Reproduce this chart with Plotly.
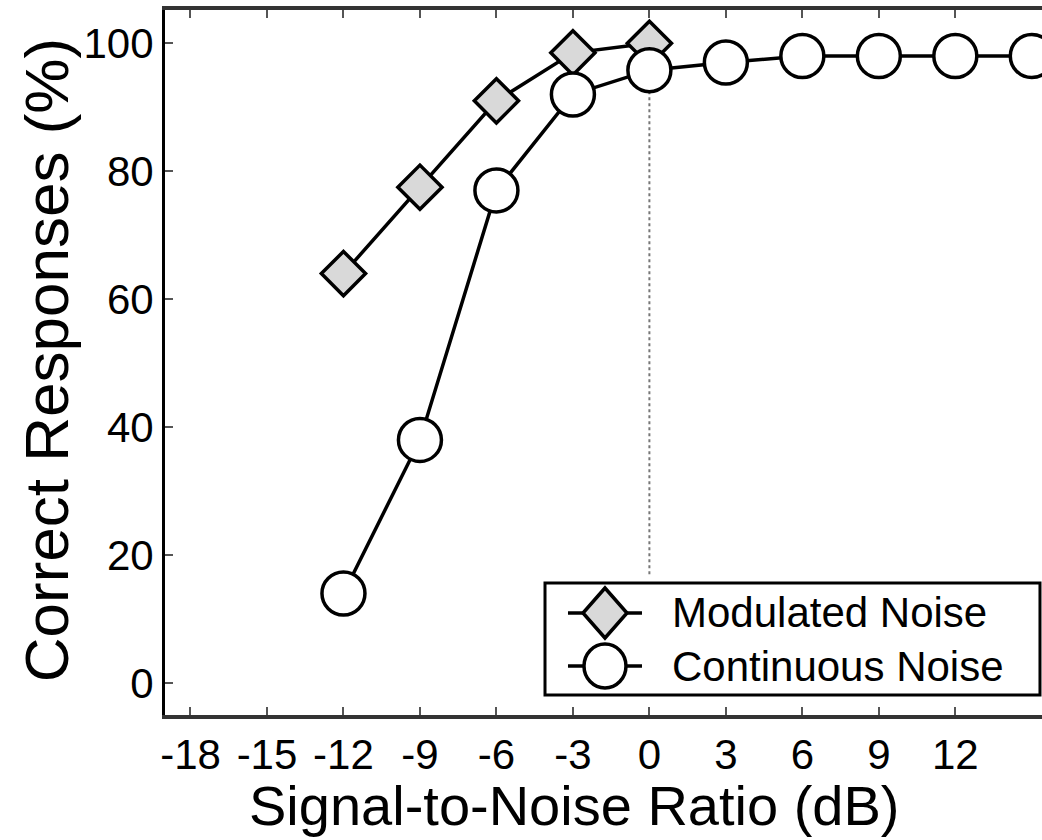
import plotly.graph_objects as go

snr = [-12, -9, -6, -3, 0]
modulated = [64, 77.5, 91, 98.5, 100]
snr_cont = [-12, -9, -6, -3, 0, 3, 6, 9, 12, 15]
continuous = [14, 38, 77, 92, 95.8, 97, 98, 98, 98, 98]
x_ticks = [-18, -15, -12, -9, -6, -3, 0, 3, 6, 9, 12]
x_labels = ["-18", "-15", "-12", "-9", "-6", "-3", "0", "3", "6", "9", "12"]
y_ticks = [0, 20, 40, 60, 80, 100]
names = ["Modulated Noise", "Continuous Noise"]

FONT = "Liberation Sans, Arial, Helvetica, sans-serif"

fig = go.Figure()
fig.add_trace(go.Scatter(
    x=snr, y=modulated, mode="lines+markers", name=names[0],
    line=dict(color="black", width=3.5),
    marker=dict(symbol="diamond", size=34, color="#d9d9d9", line=dict(color="black", width=3.5)),
    cliponaxis=False,
))
fig.add_trace(go.Scatter(
    x=snr_cont, y=continuous, mode="lines+markers", name=names[1],
    line=dict(color="black", width=3.5),
    marker=dict(symbol="circle", size=43, color="white", line=dict(color="black", width=3.5)),
    cliponaxis=False,
))

# dotted reference line at 0 dB
fig.add_shape(type="line", xref="x", yref="y", x0=0, x1=0, y0=17, y1=96,
              line=dict(color="#777777", width=2, dash="dot"), layer="below")

# manual legend
lx0, lx1, ly0, ly1 = 0.4333, 0.9977, 0.0284, 0.1872
fig.add_shape(type="rect", xref="paper", yref="paper", x0=lx0, x1=lx1, y0=ly0, y1=ly1,
              line=dict(color="black", width=3), fillcolor="white", layer="above")
sx = 0.5017
rows = [0.1447, 0.0695]
for i, ry in enumerate(rows):
    fig.add_shape(type="line", xref="paper", yref="paper", xsizemode="pixel", xanchor=sx,
                  x0=-37, x1=37, y0=ry, y1=ry, line=dict(color="black", width=3.5), layer="above")
    if i == 0:
        fig.add_shape(type="path", xref="paper", yref="paper", xsizemode="pixel", ysizemode="pixel",
                      xanchor=sx, yanchor=ry,
                      path="M 0 25 L 22 0 L 0 -25 L -22 0 Z",
                      line=dict(color="black", width=3.5), fillcolor="#d9d9d9", layer="above")
    else:
        fig.add_shape(type="circle", xref="paper", yref="paper", xsizemode="pixel", ysizemode="pixel",
                      xanchor=sx, yanchor=ry, x0=-21, x1=21, y0=-22, y1=22,
                      line=dict(color="black", width=3.5), fillcolor="white", layer="above")
    fig.add_annotation(xref="paper", yref="paper", x=0.5758, y=ry, xanchor="left", yanchor="middle",
                       text=names[i], showarrow=False, font=dict(size=42, color="black", family=FONT))

# axis titles
fig.add_annotation(xref="paper", yref="paper", x=0.466, y=-0.1277, xanchor="center", yanchor="middle",
                   text="Signal-to-Noise Ratio (dB)", showarrow=False,
                   font=dict(size=56, color="black", family=FONT))
fig.add_annotation(xref="paper", yref="paper", x=-0.1355, y=0.5035, xanchor="center", yanchor="middle",
                   text="Correct Responses (%)", showarrow=False, textangle=-90,
                   font=dict(size=62, color="black", family=FONT))

fig.update_xaxes(range=[-19, 15.4], tickvals=x_ticks, ticktext=x_labels,
                 ticks="inside", ticklen=8, tickwidth=2, tickcolor="#555555",
                 showline=True, linecolor="#333333", linewidth=4, mirror="ticks",
                 showgrid=False, zeroline=False,
                 tickfont=dict(size=42, color="black", family=FONT))
fig.update_yaxes(range=[-5, 105.2], tickvals=y_ticks,
                 ticks="inside", ticklen=8, tickwidth=2, tickcolor="#555555",
                 showline=True, linecolor="black", linewidth=3,
                 showgrid=False, zeroline=False,
                 tickfont=dict(size=42, color="black", family=FONT))

fig.update_layout(width=1042, height=840, margin=dict(l=165, r=0, t=10, b=125),
                  plot_bgcolor="white", paper_bgcolor="white", showlegend=False)

fig.write_html("out.html", config={"displayModeBar": False},
               post_script="document.body.style.margin='0';document.body.style.overflow='hidden';")
